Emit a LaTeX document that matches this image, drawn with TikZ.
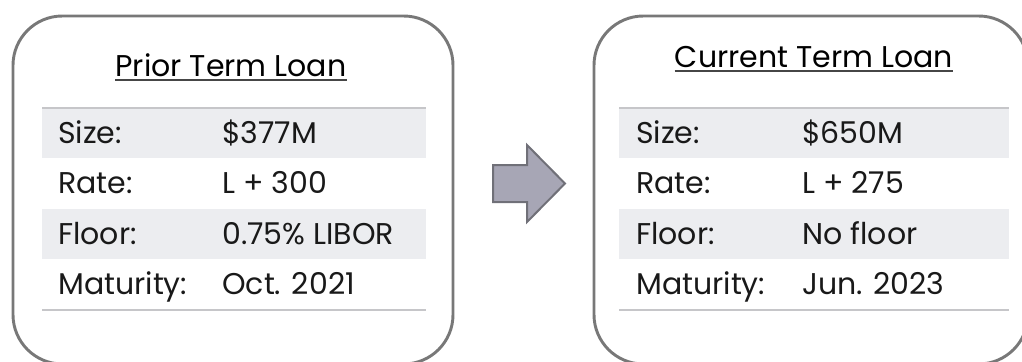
\documentclass[tikz,border=0pt]{standalone}
\usepackage{fontspec}
\setmainfont{Poppins}
\definecolor{framegray}{RGB}{120,120,120}
\definecolor{rowgray}{RGB}{236,237,240}
\definecolor{rulegray}{RGB}{198,198,201}
\definecolor{titlegray}{RGB}{70,70,70}
\definecolor{arrowfill}{RGB}{167,166,181}
\definecolor{arrowline}{RGB}{112,112,120}
\begin{document}
\begin{tikzpicture}[
  x=0.75pt,y=-0.75pt,
  loanbox/.style={draw=framegray,line width=2.2pt,rounded corners=37pt},
  shaded/.style={fill=rowgray},
  rowrule/.style={draw=rulegray,line width=1pt},
  titlerule/.style={draw=titlegray,line width=1.3pt},
  heading/.style={anchor=base,inner sep=0pt,font=\fontsize{22.5}{27}\selectfont},
  cell/.style={anchor=base west,inner sep=0pt,text=black!90,font=\fontsize{22.5}{27}\selectfont},
  blockarrow/.style={fill=arrowfill,draw=arrowline,line width=1.5pt}
]
\useasboundingbox (0,0) rectangle (1022,361);

% frames
\draw[loanbox] (13,16) rectangle (453,364);
\draw[loanbox] (594,16) rectangle (1028,364);

% prior term loan
\fill[shaded] (42,108) rectangle (426,158);
\fill[shaded] (42,209) rectangle (426,259);
\draw[rowrule] (42,108) -- (426,108);
\draw[rowrule] (42,310) -- (426,310);
\node[heading] (prior) at (231,76) {Prior Term Loan};
\draw[titlerule] ([yshift=-3pt]prior.base west) -- ([yshift=-3pt]prior.base east);
\foreach \lab/\val [count=\i from 0] in {Size:/\$377M, Rate:/L + 300, Floor:/0.75\% LIBOR, Maturity:/Oct. 2021} {
  \node[cell] (prior-l\i) at (58,{143+50.5*\i}) {\lab};
  \node[cell] (prior-v\i) at (222,{143+50.5*\i}) {\val};
}

% current term loan
\fill[shaded] (619,108) rectangle (1009,158);
\fill[shaded] (619,209) rectangle (1009,259);
\draw[rowrule] (619,108) -- (1009,108);
\draw[rowrule] (619,310) -- (1009,310);
\node[heading] (current) at (814,67) {Current Term Loan};
\draw[titlerule] ([yshift=-3pt]current.base west) -- ([yshift=-3pt]current.base east);
\foreach \lab/\val [count=\i from 0] in {Size:/\$650M, Rate:/L + 275, Floor:/No floor, Maturity:/Jun. 2023} {
  \node[cell] (current-l\i) at (636,{143+50.5*\i}) {\lab};
  \node[cell] (current-v\i) at (802,{143+50.5*\i}) {\val};
}

% arrow
\draw[blockarrow] (493,165) -- (527,165) -- (527,145) -- (565,183.5)
  -- (527,222) -- (527,202) -- (493,202) -- cycle;
\end{tikzpicture}
\end{document}
